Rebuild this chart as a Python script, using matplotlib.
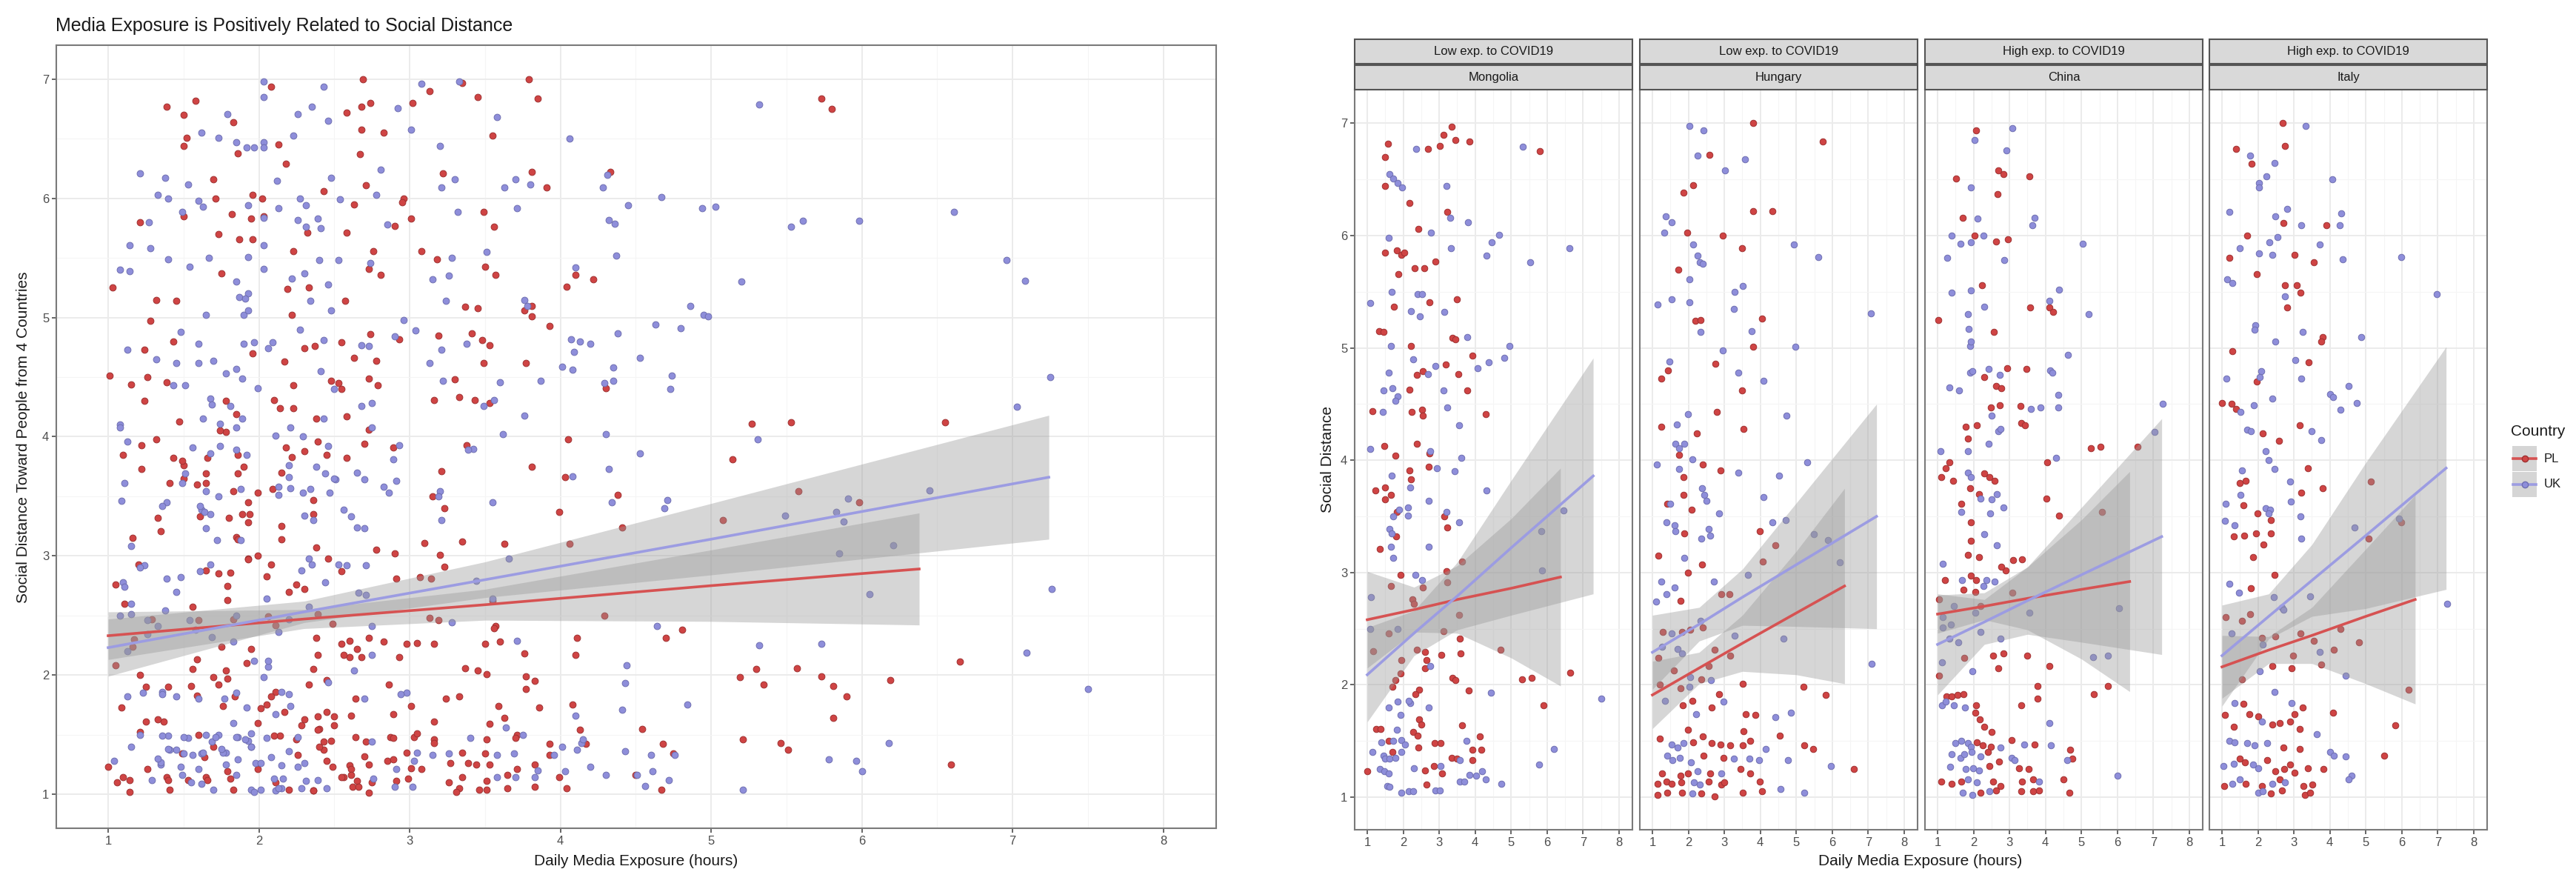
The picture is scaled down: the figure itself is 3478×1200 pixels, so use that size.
import numpy as np
import matplotlib
matplotlib.use("Agg")
import matplotlib.pyplot as plt
from matplotlib.patches import Rectangle
from matplotlib.lines import Line2D

plt.rcParams['font.family'] = ['Liberation Sans', 'DejaVu Sans']

# ---------------- data ----------------
countries = ["Mongolia", "Hungary", "China", "Italy"]
exposure = ["Low exp. to COVID19", "Low exp. to COVID19",
            "High exp. to COVID19", "High exp. to COVID19"]
groups = ["PL", "UK"]
x_ticks = [1, 2, 3, 4, 5, 6, 7, 8]
y_ticks = [1, 2, 3, 4, 5, 6, 7]

mongolia_pl = [(1.58,6.82),(1.50,6.70),(2.68,6.77),(3.02,6.80),(3.13,6.90),(3.35,6.97),(3.45,6.85),(3.85,6.84),(5.80,6.75),(1.50,6.44),(2.18,6.29),(3.22,6.21),(2.43,6.06),(1.50,5.85),(1.82,5.87),(1.95,5.83),(2.03,5.85),(1.87,5.66),(2.32,5.71),(2.58,5.71),(2.90,5.77),(2.73,5.41),(3.50,5.43),(1.75,5.37),(1.32,5.15),(1.45,5.14),(3.37,5.09),(3.45,5.08),(2.22,5.02),(3.93,4.93),(3.19,4.85),(2.37,4.76),(2.55,4.79),(3.53,4.77),(2.17,4.63),(3.77,4.62),(1.15,4.44),(2.23,4.43),(2.53,4.45),(2.55,4.40),(4.30,4.41),(1.47,4.13),(2.38,4.15),(2.73,4.06),(1.78,4.04),(2.70,3.94),(2.18,3.91),(2.22,3.83),(1.22,3.73),(1.50,3.76),(1.65,3.69),(1.50,3.65),(1.83,3.54),(3.15,3.50),(3.23,3.40),(1.80,3.32),(1.35,3.21),(1.93,2.98),(2.55,2.87),(3.20,3.01),(3.23,2.91),(3.63,3.10),(1.65,2.88),(2.25,2.76),(2.30,2.72),(1.60,2.46),(1.17,2.30),(3.55,2.62),(3.13,2.48),(2.38,2.31),(2.60,2.29),(2.65,2.22),(2.60,2.15),(3.05,2.27),(3.57,2.41),(3.60,2.28),(4.70,2.31),(1.95,2.22),(1.92,2.10),(1.70,1.98),(1.78,2.04),(3.37,2.06),(3.45,2.04),(5.30,2.05),(5.57,2.06),(6.65,2.11),(3.83,1.95),(5.90,1.82),(2.45,1.96),(2.33,1.92),(2.45,1.69),(2.50,1.65),(3.63,1.64),(1.25,1.61),(1.37,1.61),(2.28,1.58),(2.40,1.55),(4.13,1.54),(1.60,1.50),(2.87,1.48),(3.03,1.48),(1.70,1.40),(2.43,1.44),(3.93,1.42),(4.17,1.42),(3.35,1.35),(3.50,1.34),(3.93,1.33),(1.00,1.23),(2.60,1.24),(2.85,1.28),(3.08,1.21),(2.65,1.11)]
mongolia_uk = [(2.35,6.77),(5.32,6.79),(1.62,6.55),(1.73,6.51),(1.85,6.47),(1.97,6.43),(3.20,6.44),(3.30,6.16),(3.80,6.12),(2.78,6.03),(1.60,5.98),(3.32,5.89),(4.45,5.94),(4.67,6.01),(4.32,5.82),(5.53,5.76),(6.61,5.89),(1.67,5.50),(2.40,5.48),(2.53,5.48),(1.08,5.40),(2.22,5.33),(2.46,5.28),(3.15,5.32),(3.78,5.10),(1.65,5.02),(4.95,5.02),(2.27,4.90),(4.80,4.91),(4.38,4.87),(4.07,4.82),(1.60,4.78),(2.68,4.77),(2.90,4.84),(1.70,4.64),(1.45,4.62),(3.13,4.62),(1.85,4.57),(1.78,4.53),(1.43,4.43),(3.22,4.47),(3.56,4.31),(1.08,4.10),(2.75,4.08),(3.62,4.02),(2.93,3.93),(3.42,3.90),(1.68,3.86),(2.20,3.76),(4.32,3.73),(2.70,3.64),(1.88,3.56),(2.13,3.58),(2.13,3.51),(1.73,3.50),(3.20,3.54),(3.55,3.45),(1.62,3.39),(1.68,3.35),(6.45,3.55),(5.83,3.37),(1.65,3.23),(1.72,3.13),(2.70,3.23),(2.33,2.98),(2.53,2.93),(5.85,3.02),(1.10,2.78),(1.08,2.50),(1.85,2.50),(2.75,2.17),(4.43,1.93),(7.50,1.88),(1.85,1.85),(2.20,1.84),(2.15,1.86),(1.60,1.80),(2.70,1.80),(1.92,1.73),(1.83,1.60),(1.40,1.49),(1.73,1.50),(1.95,1.51),(2.05,1.47),(3.75,1.50),(6.18,1.43),(1.15,1.40),(1.45,1.37),(1.95,1.40),(1.50,1.34),(1.62,1.34),(1.78,1.35),(3.58,1.33),(1.35,1.25),(1.48,1.23),(1.60,1.21),(2.30,1.26),(3.03,1.28),(5.78,1.29),(3.85,1.20),(4.03,1.19),(4.20,1.23),(4.30,1.16),(3.58,1.14),(3.70,1.14),(4.72,1.12),(1.55,1.10),(1.62,1.09),(1.95,1.04),(2.15,1.05),(2.28,1.05),(2.90,1.06),(3.02,1.06)]

hungary_pl = [(3.79,7.00),(5.73,6.84),(2.58,6.72),(2.13,6.45),(1.86,6.38),(3.81,6.22),(4.33,6.22),(1.96,6.03),(2.96,6.00),(3.49,5.89),(1.73,5.70),(2.19,5.24),(2.33,5.25),(4.04,5.26),(3.81,5.01),(2.74,4.86),(1.43,4.80),(1.24,4.73),(3.49,4.62),(2.79,4.43),(1.24,4.30),(3.53,4.28),(2.23,4.24),(1.74,4.05),(2.39,3.96),(2.89,3.91),(1.86,3.85),(1.86,3.69),(1.41,3.61),(2.09,3.56),(1.89,3.35),(3.99,3.37),(4.41,3.24),(1.16,3.15),(2.38,3.07),(4.06,3.10),(1.99,3.00),(1.79,2.75),(2.91,2.81),(3.14,2.81),(2.39,2.51),(1.29,2.47),(1.83,2.47),(2.06,2.49),(2.73,2.31),(3.16,2.26),(1.16,2.24),(1.59,2.13),(2.56,2.17),(1.21,2.00),(1.79,1.97),(2.36,2.05),(2.86,1.92),(3.51,2.01),(5.19,1.98),(5.81,1.91),(1.84,1.82),(2.11,1.86),(2.64,1.80),(3.59,1.74),(3.86,1.73),(3.53,1.59),(4.54,1.55),(1.99,1.60),(2.39,1.54),(1.21,1.52),(2.14,1.49),(2.64,1.48),(2.89,1.47),(3.16,1.46),(3.51,1.46),(3.71,1.50),(5.21,1.46),(5.46,1.43),(2.43,1.37),(2.98,1.35),(6.59,1.25),(1.26,1.21),(1.79,1.19),(1.99,1.21),(2.61,1.21),(3.44,1.25),(3.71,1.21),(1.14,1.12),(1.39,1.14),(1.53,1.12),(1.81,1.13),(2.56,1.14),(2.91,1.11),(2.99,1.13),(3.99,1.14),(1.14,1.02),(1.41,1.04),(1.83,1.04),(2.36,1.03),(2.73,1.01),(3.51,1.04),(4.04,1.05)]
hungary_uk = [(2.03,6.98),(2.43,6.94),(2.26,6.71),(3.58,6.68),(3.01,6.58),(1.38,6.17),(1.53,6.12),(1.33,6.03),(2.13,5.92),(4.94,5.92),(5.61,5.81),(2.26,5.82),(2.31,5.76),(2.41,5.75),(2.03,5.61),(3.51,5.55),(3.28,5.50),(1.14,5.39),(1.54,5.43),(2.03,5.41),(3.26,5.35),(7.08,5.31),(2.34,5.14),(3.76,5.15),(2.96,4.98),(4.98,5.01),(1.48,4.88),(3.38,4.78),(4.09,4.71),(1.99,4.41),(4.73,4.40),(1.68,4.32),(1.63,4.15),(1.74,4.11),(1.89,4.15),(2.11,4.01),(1.13,3.96),(3.39,3.89),(5.31,3.98),(4.53,3.86),(1.74,3.92),(2.38,3.75),(2.44,3.69),(2.51,3.64),(1.49,3.61),(4.08,3.67),(2.86,3.53),(1.39,3.45),(1.61,3.42),(1.64,3.37),(2.56,3.39),(2.61,3.33),(4.34,3.45),(4.71,3.47),(2.36,3.30),(5.49,3.34),(5.88,3.29),(1.88,3.13),(2.71,2.92),(3.66,2.98),(6.21,3.09),(1.24,2.92),(1.61,2.87),(1.11,2.74),(1.39,2.81),(2.33,2.57),(1.54,2.46),(3.28,2.44),(4.64,2.41),(7.09,2.19),(1.26,2.34),(1.69,2.32),(1.83,2.28),(2.06,2.07),(2.03,1.98),(2.63,2.04),(1.36,1.86),(2.21,1.74),(2.98,1.85),(4.41,1.71),(4.84,1.75),(1.53,1.47),(1.69,1.44),(1.86,1.48),(4.14,1.43),(1.41,1.37),(1.56,1.33),(1.76,1.35),(2.08,1.31),(3.26,1.34),(3.69,1.34),(3.96,1.33),(4.76,1.33),(5.96,1.28),(2.26,1.23),(2.91,1.21),(2.16,1.13),(2.31,1.11),(2.11,1.03),(4.56,1.07),(5.21,1.04)]

china_pl = [(2.08,6.94),(1.52,6.51),(2.68,6.58),(2.83,6.55),(3.55,6.53),(2.67,6.37),(1.70,6.16),(2.02,6.00),(2.63,5.95),(2.95,5.97),(2.23,5.56),(3.57,5.36),(4.10,5.36),(4.22,5.32),(1.03,5.25),(2.57,5.14),(2.30,4.74),(2.93,4.82),(3.48,4.81),(2.63,4.66),(2.78,4.64),(2.48,4.47),(2.73,4.49),(3.30,4.48),(1.78,4.30),(2.10,4.31),(3.33,4.33),(3.43,4.31),(1.85,4.19),(5.27,4.11),(5.53,4.12),(6.55,4.12),(4.05,3.98),(1.32,3.98),(1.22,3.93),(2.30,3.88),(2.45,3.85),(2.58,3.82),(1.10,3.85),(1.43,3.82),(1.90,3.75),(2.15,3.70),(1.65,3.61),(4.03,3.66),(4.38,3.51),(5.58,3.54),(1.93,3.45),(1.93,3.28),(1.85,3.16),(2.15,3.14),(3.10,3.11),(3.35,3.12),(2.90,3.02),(2.78,3.05),(1.93,2.97),(2.08,2.93),(1.20,2.93),(1.73,2.85),(2.05,2.83),(1.05,2.76),(2.20,2.70),(3.07,2.82),(1.75,2.24),(1.05,2.08),(2.55,2.26),(2.83,2.28),(2.68,2.15),(3.50,2.26),(4.10,2.17),(5.35,1.92),(5.73,1.99),(1.25,1.90),(1.40,1.90),(1.55,1.91),(1.73,1.92),(2.08,1.82),(2.05,1.75),(3.33,1.82),(3.77,1.99),(3.77,1.88),(2.17,1.69),(2.30,1.63),(2.50,1.58),(2.10,1.49),(2.25,1.46),(2.48,1.45),(3.05,1.51),(3.70,1.47),(4.68,1.42),(2.40,1.40),(4.75,1.34),(2.70,1.32),(2.45,1.28),(3.27,1.26),(3.53,1.25),(1.10,1.14),(1.40,1.12),(1.65,1.14),(2.55,1.14),(2.75,1.10),(3.35,1.14),(3.65,1.16),(4.50,1.16),(2.20,1.04),(2.62,1.06),(3.33,1.05),(3.65,1.05),(3.83,1.06),(4.67,1.04)]
china_uk = [(2.03,6.85),(3.08,6.96),(2.92,6.76),(1.92,6.43),(2.12,6.15),(3.70,6.16),(3.63,6.09),(1.40,6.00),(1.63,5.93),(1.93,5.94),(2.27,6.00),(1.27,5.80),(2.85,5.78),(5.03,5.93),(1.40,5.49),(1.93,5.51),(2.30,5.37),(4.10,5.42),(4.37,5.52),(5.20,5.30),(1.85,5.30),(1.87,5.17),(1.90,5.02),(1.93,5.06),(4.63,4.94),(1.90,4.78),(1.97,4.79),(2.43,4.81),(2.73,4.76),(4.13,4.80),(4.20,4.78),(1.32,4.65),(1.60,4.62),(2.50,4.40),(3.60,4.46),(3.87,4.47),(4.35,4.58),(4.35,4.47),(7.25,4.50),(2.68,4.26),(2.75,4.28),(2.43,4.15),(1.85,4.08),(1.08,4.08),(7.03,4.25),(4.30,4.02),(1.85,3.89),(1.92,3.85),(2.20,3.66),(2.65,3.70),(2.50,3.65),(2.47,3.53),(2.83,3.58),(1.65,3.54),(2.30,3.34),(2.65,3.24),(1.15,3.08),(2.35,2.93),(1.68,2.93),(2.28,2.88),(2.58,2.92),(1.45,2.70),(1.15,2.60),(2.05,2.64),(6.05,2.68),(1.15,2.51),(1.38,2.54),(3.55,2.64),(1.33,2.41),(1.58,2.38),(2.20,2.47),(2.75,2.41),(1.13,2.20),(1.97,2.12),(5.32,2.25),(5.73,2.26),(1.13,1.82),(1.23,1.85),(1.45,1.82),(1.77,1.80),(4.10,1.66),(1.50,1.48),(1.65,1.50),(1.85,1.48),(1.93,1.45),(2.75,1.44),(3.40,1.47),(4.15,1.46),(1.40,1.38),(1.63,1.35),(1.75,1.38),(1.95,1.40),(2.20,1.36),(3.05,1.35),(3.15,1.33),(4.60,1.33),(1.35,1.27),(1.78,1.25),(1.98,1.26),(2.15,1.24),(6.00,1.19),(1.85,1.16),(2.10,1.13),(3.83,1.14),(1.70,1.04),(1.97,1.02),(2.45,1.05)]

italy_pl = [(2.69,7.00),(2.74,6.80),(1.39,6.77),(1.83,6.64),(2.71,6.11),(3.91,6.09),(1.71,6.00),(3.01,5.83),(3.56,5.76),(1.21,5.80),(1.96,5.66),(2.76,5.56),(3.08,5.56),(3.18,5.49),(2.81,5.36),(3.81,5.10),(3.76,5.06),(1.28,4.97),(3.41,4.87),(1.96,4.70),(1.01,4.51),(1.26,4.50),(1.39,4.46),(3.16,4.31),(2.14,4.24),(2.58,4.17),(1.49,3.80),(1.66,3.82),(3.38,3.93),(3.21,3.71),(3.81,3.75),(1.59,3.60),(1.99,3.53),(2.36,3.47),(1.94,3.35),(2.36,3.35),(1.33,3.32),(1.61,3.33),(2.15,3.25),(1.86,3.14),(5.14,3.81),(5.08,3.30),(5.98,3.45),(2.46,2.98),(1.81,2.86),(1.79,2.63),(1.11,2.60),(1.56,2.57),(2.11,2.42),(2.49,2.43),(3.19,2.46),(4.29,2.50),(4.81,2.38),(3.56,2.39),(2.98,2.26),(4.11,2.31),(3.76,2.18),(2.39,2.17),(2.93,2.15),(1.56,2.05),(6.19,1.96),(1.59,1.83),(3.24,1.80),(4.08,1.75),(1.09,1.73),(1.76,1.74),(2.01,1.72),(2.39,1.65),(2.61,1.66),(2.89,1.67),(3.01,1.74),(3.16,1.61),(1.33,1.63),(5.81,1.64),(2.71,1.44),(3.16,1.43),(5.51,1.37),(1.49,1.34),(1.64,1.31),(2.26,1.33),(2.49,1.23),(2.73,1.25),(2.89,1.29),(3.01,1.22),(3.39,1.26),(3.83,1.25),(1.06,1.10),(1.66,1.12),(2.11,1.10),(2.61,1.16),(3.26,1.10),(3.51,1.11),(2.36,1.03),(2.66,1.06),(3.31,1.02),(3.46,1.04)]
italy_uk = [(3.33,6.98),(1.79,6.71),(2.46,6.65),(2.03,6.47),(2.03,6.43),(2.23,6.53),(4.06,6.50),(1.21,6.21),(2.48,6.17),(2.81,6.24),(3.21,6.09),(4.28,6.09),(4.31,6.20),(2.31,5.94),(2.54,5.99),(1.49,5.89),(2.03,5.84),(2.39,5.83),(3.71,5.92),(4.36,5.79),(5.98,5.81),(1.14,5.61),(1.28,5.58),(2.74,5.46),(6.96,5.48),(3.24,5.14),(1.93,5.20),(1.91,5.16),(2.48,5.06),(4.86,5.10),(3.04,4.89),(1.13,4.73),(2.09,4.79),(2.06,4.74),(3.21,4.73),(4.53,4.66),(4.01,4.59),(4.08,4.56),(2.41,4.55),(4.74,4.51),(4.29,4.45),(1.51,4.43),(1.89,4.49),(3.49,4.26),(1.69,4.27),(1.81,4.26),(3.76,4.18),(2.21,4.08),(2.29,4.00),(2.46,3.92),(1.56,3.91),(2.89,3.81),(1.51,3.69),(2.91,3.63),(1.11,3.61),(2.21,3.57),(2.34,3.56),(2.29,3.53),(3.19,3.50),(1.09,3.46),(1.36,3.42),(3.21,3.30),(4.69,3.40),(5.91,3.48),(1.21,2.90),(1.48,2.82),(3.44,2.79),(2.44,2.78),(2.66,2.69),(2.71,2.67),(7.26,2.72),(1.26,2.46),(2.13,2.36),(3.71,2.29),(2.06,2.12),(4.44,2.08),(2.46,1.94),(1.36,1.84),(2.94,1.84),(2.11,1.67),(3.64,1.56),(1.21,1.50),(1.36,1.49),(1.71,1.48),(1.91,1.46),(2.26,1.48),(4.01,1.40),(4.11,1.37),(4.43,1.36),(1.04,1.28),(1.33,1.30),(1.86,1.29),(2.01,1.26),(4.61,1.19),(4.51,1.16),(1.29,1.12),(1.49,1.16),(2.39,1.12),(2.76,1.13),(2.01,1.04),(2.13,1.05)]

# fitted lines with 95% bands (x knots, fit, lower, upper)
fit_all_pl = ([1, 2.3, 3.5, 5, 6.38], [2.33, 2.47, 2.59, 2.75, 2.89], [2.13, 2.39, 2.46, 2.45, 2.42], [2.53, 2.55, 2.72, 3.05, 3.36])
fit_all_uk = ([1, 2.3, 3.5, 5, 7.24], [2.23, 2.53, 2.80, 3.14, 3.66], [1.99, 2.44, 2.65, 2.84, 3.14], [2.47, 2.62, 2.95, 3.44, 4.18])

fit_mongolia_pl = ([1, 2.3, 3.5, 5, 6.37], [2.58, 2.67, 2.76, 2.86, 2.96], [2.15, 2.47, 2.46, 2.24, 1.99], [3.01, 2.87, 3.06, 3.48, 3.93])
fit_mongolia_uk = ([1, 2.3, 3.5, 5, 7.28], [2.09, 2.46, 2.79, 3.22, 3.86], [1.67, 2.26, 2.49, 2.62, 2.81], [2.51, 2.66, 3.09, 3.82, 4.91])
fit_hungary_pl = ([1, 2.3, 3.5, 5, 6.34], [1.91, 2.15, 2.37, 2.64, 2.88], [1.61, 2.01, 2.12, 2.09, 2.01], [2.21, 2.29, 2.62, 3.19, 3.75])
fit_hungary_uk = ([1, 2.3, 3.5, 5, 7.23], [2.29, 2.54, 2.78, 3.07, 3.50], [1.96, 2.39, 2.53, 2.52, 2.50], [2.62, 2.69, 3.03, 3.62, 4.50])
fit_china_pl = ([1, 2.3, 3.5, 5, 6.34], [2.63, 2.70, 2.77, 2.85, 2.92], [2.46, 2.58, 2.49, 2.23, 1.94], [2.80, 2.82, 3.05, 3.47, 3.90])
fit_china_uk = ([1, 2.3, 3.5, 5, 7.23], [2.36, 2.56, 2.75, 2.98, 3.32], [1.91, 2.36, 2.45, 2.38, 2.27], [2.81, 2.76, 3.05, 3.58, 4.37])
fit_italy_pl = ([1, 2.3, 3.5, 5, 6.37], [2.16, 2.31, 2.44, 2.61, 2.76], [1.88, 2.19, 2.19, 2.01, 1.83], [2.44, 2.43, 2.69, 3.21, 3.69])
fit_italy_uk = ([1, 2.3, 3.5, 5, 7.23], [2.26, 2.61, 2.93, 3.33, 3.93], [1.81, 2.41, 2.61, 2.68, 2.85], [2.71, 2.81, 3.25, 3.98, 5.01])

# ---------------- style ----------------
W, H = 3478, 1200
PT_COL = {"PL": "#CF4444", "UK": "#8E8EDA"}
PT_EDGE = {"PL": "#9E3030", "UK": "#6E6EB0"}
LN_COL = {"PL": "#D65252", "UK": "#9C9CE2"}
TXT = "#1A1A1A"
TICK = "#4D4D4D"

fig = plt.figure(figsize=(W / 100, H / 100), dpi=100)


def fx(x):
    return x / W


def fy(y):
    return 1 - y / H


def rect(x0, y0, x1, y1):
    # pixel box, origin top-left -> figure fraction
    return [x0 / W, 1 - y1 / H, (x1 - x0) / W, (y1 - y0) / H]


def style(ax, xlim, ylim, ylabels=True):
    ax.set_xlim(*xlim)
    ax.set_ylim(*ylim)
    ax.set_xticks(x_ticks)
    ax.set_yticks(y_ticks)
    ax.set_xticks(np.arange(1.5, 8, 1), minor=True)
    ax.set_yticks(np.arange(1.5, 7, 1), minor=True)
    ax.grid(which="major", color="#EBEBEB", lw=1.4)
    ax.grid(which="minor", color="#F5F5F5", lw=0.8)
    ax.set_axisbelow(True)
    ax.tick_params(which="minor", length=0)
    ax.tick_params(which="major", length=4, width=1.2, color=TICK,
                   labelsize=12, labelcolor=TICK, pad=3)
    if not ylabels:
        ax.tick_params(axis="y", length=0, labelleft=False)
    for s in ax.spines.values():
        s.set_color("#7A7A7A")
        s.set_linewidth(1.5)


def draw(ax, pts, fits, size):
    for g, p in zip(groups, pts):
        p = np.array(p)
        ax.scatter(p[:, 0], p[:, 1], s=size, color=PT_COL[g],
                   edgecolors=PT_EDGE[g], linewidths=0.7, zorder=2)
    for g, f in zip(groups, fits):
        x, y, lo, hi = f
        ax.fill_between(x, lo, hi, color="#999999", alpha=0.4, lw=0, zorder=3)
    for g, f in zip(groups, fits):
        x, y, lo, hi = f
        ax.plot(x, y, color=LN_COL[g], lw=2.6, zorder=4)


# ---------------- left panel ----------------
per_country = [(mongolia_pl, mongolia_uk), (hungary_pl, hungary_uk),
               (china_pl, china_uk), (italy_pl, italy_uk)]
all_pl = sum([c[0] for c in per_country], [])
all_uk = sum([c[1] for c in per_country], [])

ax0 = fig.add_axes(rect(76, 61, 1642, 1118))
style(ax0, (0.656, 8.35), (0.714, 7.286))
draw(ax0, [all_pl, all_uk], [fit_all_pl, fit_all_uk], 40)

fig.text(fx(75), fy(35), "Media Exposure is Positively Related to Social Distance",
         fontsize=18, color=TXT, ha="left", va="center")
fig.text(fx(32), fy(590), "Social Distance Toward People from 4 Countries",
         fontsize=15, color=TXT, rotation=90, ha="center", va="center")
fig.text(fx(859), fy(1163), "Daily Media Exposure (hours)",
         fontsize=15, color=TXT, ha="center", va="center")

# ---------------- facets ----------------
facet_left = [1829, 2214, 2599, 2983]
facet_fits = [(fit_mongolia_pl, fit_mongolia_uk), (fit_hungary_pl, fit_hungary_uk),
              (fit_china_pl, fit_china_uk), (fit_italy_pl, fit_italy_uk)]

for i, x0 in enumerate(facet_left):
    ax = fig.add_axes(rect(x0, 121, x0 + 375, 1120))
    style(ax, (0.65, 8.37), (0.71, 7.30), ylabels=(i == 0))
    draw(ax, per_country[i], facet_fits[i], 38)
    for (t0, t1), label in [((53, 86), exposure[i]), ((88, 121), countries[i])]:
        fig.patches.append(Rectangle((fx(x0), fy(t1)), 375 / W, (t1 - t0) / H,
                                     transform=fig.transFigure, facecolor="#D9D9D9",
                                     edgecolor="#555555", lw=1.5))
        fig.text(fx(x0 + 187.5), fy((t0 + t1) / 2), label, fontsize=12,
                 color=TXT, ha="center", va="center")

fig.text(fx(1792), fy(620), "Social Distance", fontsize=15, color=TXT,
         rotation=90, ha="center", va="center")
fig.text(fx(2593), fy(1163), "Daily Media Exposure (hours)",
         fontsize=15, color=TXT, ha="center", va="center")

# ---------------- legend ----------------
fig.text(fx(3390), fy(583), "Country", fontsize=15, color=TXT, ha="left", va="center")
for g, yc in zip(groups, [619, 654]):
    fig.patches.append(Rectangle((fx(3392), fy(yc + 17)), 33 / W, 34 / H,
                                 transform=fig.transFigure, facecolor="#D5D5D5",
                                 edgecolor="none"))
    fig.lines.append(Line2D([fx(3393), fx(3424)], [fy(yc), fy(yc)],
                            transform=fig.transFigure, color=LN_COL[g], lw=2.6))
    fig.lines.append(Line2D([fx(3408.5)], [fy(yc)], transform=fig.transFigure,
                            marker="o", ms=6, color=PT_COL[g],
                            markeredgecolor=PT_EDGE[g], lw=0))
    fig.text(fx(3435), fy(yc), g, fontsize=12, color=TXT, ha="left", va="center")

fig.savefig("out.png", dpi=100)
